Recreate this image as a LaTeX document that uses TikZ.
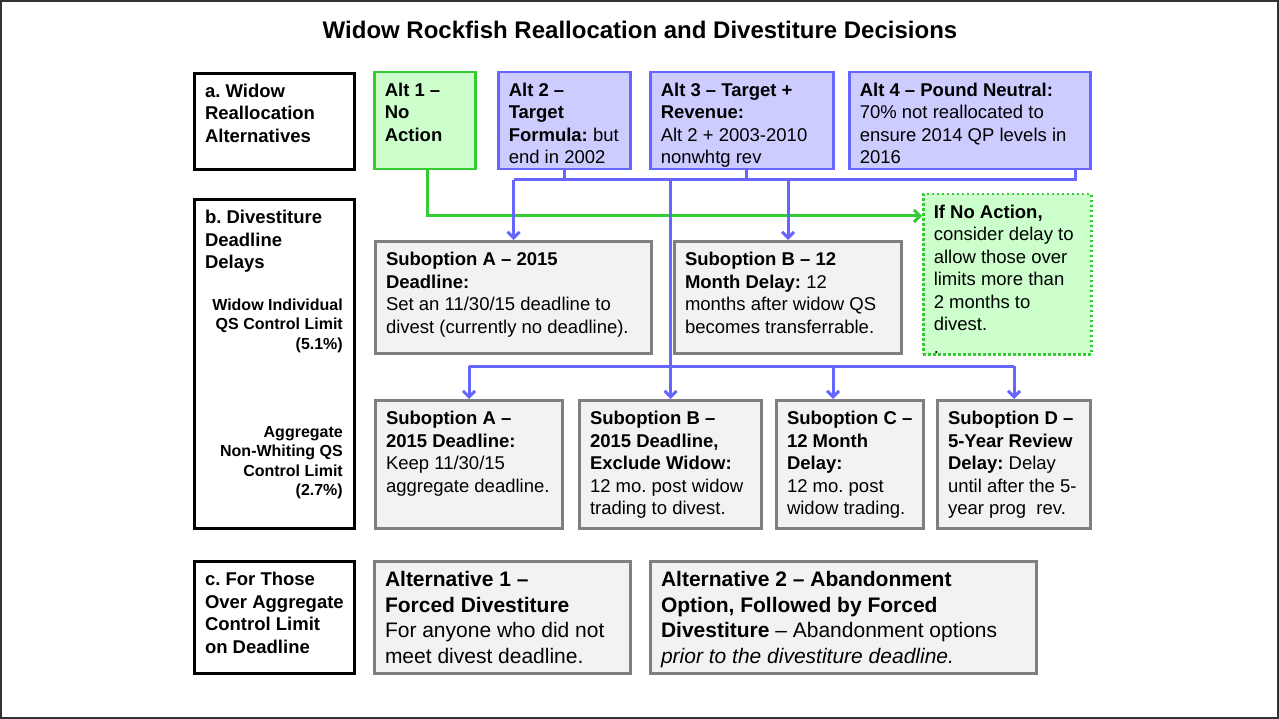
\documentclass[tikz,border=0pt]{standalone}
\usepackage{fontspec}
\setmainfont{Liberation Sans}
\usetikzlibrary{arrows.meta,calc}
\frenchspacing
\definecolor{gfill}{HTML}{CCFFCC}
\definecolor{gline}{HTML}{33CC33}
\definecolor{bfill}{HTML}{CCCCFF}
\definecolor{bline}{HTML}{6666FF}
\definecolor{ofill}{HTML}{F2F2F2}
\definecolor{oline}{HTML}{7F7F7F}
\newcommand\fm{\fontsize{18.5}{22.5}\selectfont}
\newcommand\fl{\fontsize{21}{25.5}\selectfont}
\newcommand\fs{\fontsize{16}{19.5}\selectfont}
% name, style, x1, y1, x2, y2, font, strut height, text
\newcommand\mkbox[9]{%
  \pgfmathsetmacro\bw{#5-#3}\pgfmathsetmacro\bh{#6-#4}%
  \pgfmathsetmacro\tw{#5-#3-14}\pgfmathsetmacro\th{#6-#4-12}%
  \node[#2, anchor=north west, inner sep=0pt, minimum width=\bw pt, minimum height=\bh pt] (#1) at (#3pt,-#4pt)
  {\hspace*{10.5pt}\parbox[c][\th pt][t]{\tw pt}{#7\raggedright\frenchspacing\rule{0pt}{#8pt}#9}\hspace*{3.5pt}};}
\tikzset{
  lab/.style={draw=black, line width=3pt, fill=white},
  altg/.style={draw=gline, fill=gfill, line width=2.5pt},
  altb/.style={draw=bline, fill=bfill, line width=2.5pt},
  opt/.style={draw=oline, fill=ofill, line width=3pt},
  gdot/.style={draw=gline, fill=gfill, line width=2.5pt, dash pattern=on 2.5pt off 2.5pt},
  bconn/.style={draw=bline, line width=3pt},
  gconn/.style={draw=gline, line width=3pt},
  tip/.style={-{Straight Barb[length=6pt,width=12pt]}},
}
\begin{document}
\begin{tikzpicture}
\useasboundingbox (0,0) rectangle (1279pt,-719pt);
\draw[line width=2pt, draw=black!80] (1pt,-1pt) rectangle (1278pt,-718pt);

\node[font=\fontsize{24}{28}\selectfont\bfseries] (title) at (640pt,-30pt) {Widow Rockfish Reallocation and Divestiture Decisions};

% left labels
\mkbox{la}{lab}{193}{72}{353}{168}{\fm\bfseries}{18}{a. Widow\\Reallocation\\Alternatives}
\mkbox{lb}{lab}{193}{198}{353}{527}{\fm\bfseries}{18}{b. Divestiture\\Deadline\\Delays}
\mkbox{lc}{lab}{193}{560}{353}{672}{\fm\bfseries}{18}{c. For Those\\Over Aggregate\\Control Limit\\on Deadline}
\node[font=\fs\bfseries, align=right, anchor=north east, inner sep=0pt] (wlim) at (343pt,-296pt) {\rule{0pt}{14pt}Widow Individual\\QS Control Limit\\(5.1\%)};
\node[font=\fs\bfseries, align=right, anchor=north east, inner sep=0pt] (alim) at (343pt,-423pt) {\rule{0pt}{14pt}Aggregate\\Non-Whiting QS\\Control Limit\\(2.7\%)};

% alternatives
\mkbox{alt1}{altg}{373}{71}{474}{168}{\fm}{18}{\textbf{Alt 1 –\\No\\Action}}
\mkbox{alt2}{altb}{497}{71}{629}{168}{\fm}{18}{\textbf{Alt 2 –\\Target\\Formula:} but\\end in 2002}
\mkbox{alt3}{altb}{649}{71}{832}{168}{\fm}{18}{\textbf{Alt 3 – Target +\\Revenue:}\\Alt 2 + 2003-2010\\nonwhtg rev}
\mkbox{alt4}{altb}{848}{71}{1089}{168}{\fm}{18}{\textbf{Alt 4 – Pound Neutral:}\\70\% not reallocated to\\ensure 2014 QP levels in\\2016}

% row 2
\mkbox{subA2}{opt}{374}{240}{650}{352}{\fm}{18}{\textbf{Suboption A – 2015\\Deadline:}\\Set an 11/30/15 deadline to\\divest (currently no deadline).}
\mkbox{subB2}{opt}{673}{240}{900}{352}{\fm}{18}{\textbf{Suboption B – 12\\Month Delay:} 12\\months after widow QS\\becomes transferrable.}
\mkbox{green}{gdot}{922}{193}{1090}{353}{\fm}{18}{\textbf{If No Action,}\\consider delay to\\allow those over\\limits more than\\2 months to\\divest.\\.}

% row 3
\mkbox{subA3}{opt}{374}{399}{561}{527}{\fm}{18}{\textbf{Suboption A –\\2015 Deadline:}\\Keep 11/30/15\\aggregate deadline.}
\mkbox{subB3}{opt}{578}{399}{760}{527}{\fm}{18}{\textbf{Suboption B –\\2015 Deadline,\\Exclude Widow:}\\12 mo. post widow\\trading to divest.}
\mkbox{subC3}{opt}{775}{399}{922}{527}{\fm}{18}{\textbf{Suboption C –\\12 Month\\Delay:}\\12 mo. post\\widow trading.}
\mkbox{subD3}{opt}{936}{399}{1089}{527}{\fm}{18}{\textbf{Suboption D –\\5-Year Review\\Delay:} Delay\\until after the 5-\\year prog\ \ rev.}

% row 4
\mkbox{alt1c}{opt}{373}{560}{629}{672}{\fl}{19}{\textbf{Alternative 1 –\\Forced Divestiture}\\For anyone who did not\\meet divest deadline.}
\mkbox{alt2c}{opt}{649}{560}{1035}{672}{\fl}{19}{\textbf{Alternative 2 – Abandonment\\Option, Followed by Forced\\Divestiture} – Abandonment options\\\textit{prior to the divestiture deadline.}}

% connectors
\coordinate (bus1) at (0,-180pt);
\coordinate (bus2) at (0,-366pt);
\coordinate (gy) at (0,-216pt);
\coordinate (a1) at ([xshift=3pt]alt1.south);
\coordinate (a3) at ([xshift=5pt]alt3.south);
\coordinate (a4) at ([xshift=-16pt]alt4.south east);
\coordinate (c3) at ([xshift=-17pt]subC3.north);

\draw[gconn,tip] (a1) |- (green.west |- gy);

\draw[bconn] (alt2.south) -- (alt2.south |- bus1);
\draw[bconn] (a3) -- (a3 |- bus1);
\draw[bconn] (a4) |- (subA2.north |- bus1);
\draw[bconn,tip] (subA2.north |- bus1) -- (subA2.north);
\draw[bconn,tip] (subB2.north |- bus1) -- (subB2.north);
\draw[bconn,tip] (subB3.north |- bus1) -- (subB3.north);

\draw[bconn] (subA3.north |- bus2) -- (subD3.north |- bus2);
\draw[bconn,tip] (subA3.north |- bus2) -- (subA3.north);
\draw[bconn,tip] (c3 |- bus2) -- (c3);
\draw[bconn,tip] (subD3.north |- bus2) -- (subD3.north);
\end{tikzpicture}
\end{document}
